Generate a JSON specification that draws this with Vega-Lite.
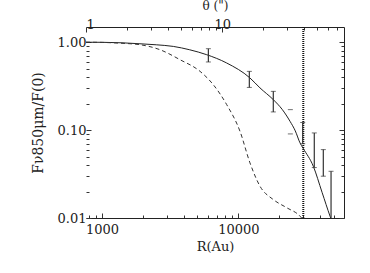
{
  "$schema": "https://vega.github.io/schema/vega-lite/v6.json",
  "width": 258,
  "height": 191,
  "autosize": {"type": "none"},
  "padding": {"left": 86, "top": 27, "right": 26, "bottom": 55},
  "background": "white",
  "config": {
    "view": {"stroke": null},
    "axis": {
      "labelFont": "DejaVu Serif",
      "titleFont": "DejaVu Serif",
      "labelFontSize": 13,
      "titleFontSize": 13,
      "titleFontWeight": "normal",
      "labelColor": "#222",
      "titleColor": "#222",
      "domainColor": "#222",
      "tickColor": "#333",
      "grid": false
    }
  },
  "datasets": {
    "solid": [
      {"R": 762, "F": 1.0},
      {"R": 1000, "F": 0.998},
      {"R": 1400, "F": 0.985},
      {"R": 1897, "F": 0.96},
      {"R": 2500, "F": 0.935},
      {"R": 3335, "F": 0.896},
      {"R": 4400, "F": 0.82},
      {"R": 5865, "F": 0.721},
      {"R": 8220, "F": 0.58},
      {"R": 12180, "F": 0.392},
      {"R": 14430, "F": 0.302},
      {"R": 18070, "F": 0.222},
      {"R": 21000, "F": 0.172},
      {"R": 23970, "F": 0.126},
      {"R": 26200, "F": 0.098},
      {"R": 28380, "F": 0.0716},
      {"R": 29880, "F": 0.0623},
      {"R": 35530, "F": 0.0388},
      {"R": 41200, "F": 0.0196},
      {"R": 47140, "F": 0.0105},
      {"R": 48500, "F": 0.0093}
    ],
    "dashed": [
      {"R": 762, "F": 1.0},
      {"R": 1000, "F": 0.995},
      {"R": 1352, "F": 0.975},
      {"R": 1897, "F": 0.937},
      {"R": 2660, "F": 0.822},
      {"R": 3730, "F": 0.633},
      {"R": 5240, "F": 0.466},
      {"R": 6550, "F": 0.329},
      {"R": 8220, "F": 0.195},
      {"R": 10290, "F": 0.097},
      {"R": 12180, "F": 0.0424},
      {"R": 14430, "F": 0.023},
      {"R": 18070, "F": 0.0162},
      {"R": 22650, "F": 0.0131},
      {"R": 28380, "F": 0.0105},
      {"R": 29500, "F": 0.0098}
    ],
    "bars": [
      {"R": 6030, "lo": 0.596, "hi": 0.844},
      {"R": 12050, "lo": 0.306, "hi": 0.466},
      {"R": 18070, "lo": 0.161, "hi": 0.276},
      {"R": 24100, "lo": 0.0905, "hi": 0.171},
      {"R": 29700, "lo": 0.07, "hi": 0.122},
      {"R": 36130, "lo": 0.0375, "hi": 0.0929},
      {"R": 42080, "lo": 0.0299, "hi": 0.06},
      {"R": 47960, "lo": 0.005, "hi": 0.034}
    ],
    "vline": [{"R": 30000}],
    "dummy": [{"theta": 1, "F": 0.01}, {"theta": 78.35, "F": 1.49}]
  },
  "layer": [
    {
      "encoding": {
        "x": {
          "field": "R",
          "type": "quantitative",
          "title": "R(Au)",
          "scale": {"type": "log", "domain": [762, 59700], "nice": false},
          "axis": {
            "orient": "bottom",
            "values": [800, 900, 1000, 2000, 3000, 4000, 5000, 6000, 7000, 8000, 9000, 10000, 20000, 30000, 40000, 50000],
            "labelExpr": "datum.value == 1000 || datum.value == 10000 ? format(datum.value, 'd') : ''",
            "tickSize": {"condition": {"test": "datum.value == 1000 || datum.value == 10000", "value": -5}, "value": -3},
            "labelPadding": 10,
            "titlePadding": 4,
            "labelFlush": false
          }
        }
      },
      "layer": [
        {
          "data": {"name": "solid"},
          "mark": {"type": "line", "color": "#222", "strokeWidth": 1, "clip": true, "interpolate": "monotone"},
          "encoding": {
            "y": {
              "field": "F",
              "type": "quantitative",
              "title": "Fν850μm/F(0)",
              "scale": {"type": "log", "domain": [0.01, 1.49], "nice": false},
              "axis": {
                "orient": "left",
                "domain": false,
                "values": [0.01, 0.02, 0.03, 0.04, 0.05, 0.06, 0.07, 0.08, 0.09, 0.1, 0.2, 0.3, 0.4, 0.5, 0.6, 0.7, 0.8, 0.9, 1],
                "labelExpr": "datum.value == 1 || datum.value == 0.1 || datum.value == 0.01 ? format(datum.value, '.2f') : ''",
                "tickSize": {"condition": {"test": "datum.value == 1 || datum.value == 0.1 || datum.value == 0.01", "value": -5}, "value": -3},
                "labelPadding": 5,
                "titlePadding": 12,
                "titleFontSize": 14
              }
            }
          }
        },
        {
          "data": {"name": "dashed"},
          "mark": {"type": "line", "color": "#333", "strokeWidth": 1, "strokeDash": [4, 3], "clip": true, "interpolate": "monotone"},
          "encoding": {
            "y": {"field": "F", "type": "quantitative", "title": "Fν850μm/F(0)", "scale": {"type": "log", "domain": [0.01, 1.49], "nice": false}}
          }
        },
        {
          "data": {"name": "vline"},
          "mark": {"type": "rule", "color": "#111", "strokeWidth": 2, "strokeDash": [1, 1]},
          "encoding": {}
        },
        {
          "data": {"name": "bars"},
          "transform": [{"filter": "datum.R != 24100"}],
          "mark": {"type": "rule", "color": "#333", "strokeWidth": 1.2, "clip": true},
          "encoding": {
            "y": {"field": "lo", "type": "quantitative", "title": "Fν850μm/F(0)", "scale": {"type": "log", "domain": [0.01, 1.49], "nice": false}},
            "y2": {"field": "hi"}
          }
        },
        {
          "data": {"name": "bars"},
          "mark": {"type": "tick", "orient": "horizontal", "color": "#333", "size": 5, "thickness": 1, "clip": true},
          "encoding": {
            "y": {"field": "hi", "type": "quantitative", "title": "Fν850μm/F(0)", "scale": {"type": "log", "domain": [0.01, 1.49], "nice": false}}
          }
        },
        {
          "data": {"name": "bars"},
          "mark": {"type": "tick", "orient": "horizontal", "color": "#333", "size": 5, "thickness": 1, "clip": true},
          "encoding": {
            "y": {"field": "lo", "type": "quantitative", "title": "Fν850μm/F(0)", "scale": {"type": "log", "domain": [0.01, 1.49], "nice": false}}
          }
        }
      ]
    },
    {
      "data": {"name": "dummy"},
      "mark": {"type": "point", "opacity": 0},
      "encoding": {
        "x": {
          "field": "theta",
          "type": "quantitative",
          "title": "θ (\")",
          "scale": {"type": "log", "domain": [1, 78.35], "nice": false},
          "axis": {
            "orient": "top",
            "values": [1, 2, 3, 4, 5, 6, 7, 8, 9, 10, 20, 30, 40, 50, 60, 70],
            "labelExpr": "datum.value == 1 || datum.value == 10 ? format(datum.value, 'd') : ''",
            "tickSize": {"condition": {"test": "datum.value == 1 || datum.value == 10", "value": -5}, "value": -3},
            "labelPadding": 1,
            "labelFlush": true,
            "titlePadding": 6,
            "titleFontSize": 12
          }
        },
        "y": {
          "field": "F",
          "type": "quantitative",
          "title": null,
          "scale": {"type": "log", "domain": [0.01, 1.49], "nice": false},
          "axis": {
            "orient": "right",
            "values": [0.01, 0.02, 0.03, 0.04, 0.05, 0.06, 0.07, 0.08, 0.09, 0.1, 0.2, 0.3, 0.4, 0.5, 0.6, 0.7, 0.8, 0.9, 1],
            "labels": false,
            "tickSize": {"condition": {"test": "datum.value == 1 || datum.value == 0.1 || datum.value == 0.01", "value": -5}, "value": -3}
          }
        }
      }
    }
  ],
  "resolve": {"scale": {"x": "independent", "y": "independent"}}
}
